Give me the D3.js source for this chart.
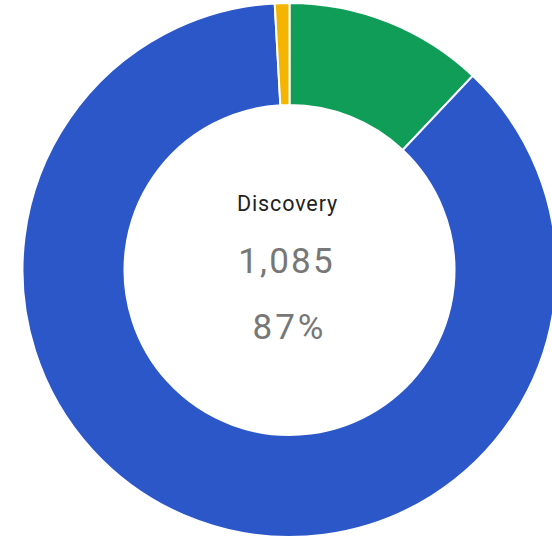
<!DOCTYPE html>
<html>
<head>
<meta charset="utf-8">
<script src="https://cdn.jsdelivr.net/npm/d3@7"></script>
<style>
  html, body { margin: 0; padding: 0; background: #fff; }
  svg { display: block; }
</style>
</head>
<body>
<svg id="chart" width="552" height="541"></svg>
<script>
const categories = ["Other", "Discovery", "Minor"];
const values = [150, 1085, 11];
const colors = ["#0F9D58", "#2B57C8", "#F4B400"];
const focusIndex = 1;

const W = 552, H = 541;
const cx = 289.5, cy = 270;
const outerR = 267, innerR = 165;

const svg = d3.select("#chart");
const g = svg.append("g").attr("transform", `translate(${cx},${cy})`);

const pie = d3.pie().sort(null).value(d => d);
const arcs = pie(values);
const arc = d3.arc().innerRadius(innerR).outerRadius(outerR);

g.selectAll("path.slice")
  .data(arcs)
  .join("path")
  .attr("class", "slice")
  .attr("d", arc)
  .attr("fill", (d, i) => colors[i])
  .attr("stroke", "#fff")
  .attr("stroke-width", 2);

const total = d3.sum(values);
const fmt = d3.format(",");
const pct = Math.round(values[focusIndex] / total * 100) + "%";

g.append("text")
  .attr("x", -2).attr("y", 211 - cy)
  .attr("text-anchor", "middle")
  .attr("font-family", "Roboto, sans-serif")
  .attr("font-weight", 400)
  .attr("font-size", 21.5)
  .attr("letter-spacing", 0.9)
  .attr("fill", "#222")
  .text(categories[focusIndex]);

g.append("text")
  .attr("x", -3).attr("y", 273 - cy)
  .attr("text-anchor", "middle")
  .attr("font-family", "Roboto, sans-serif")
  .attr("font-size", 35)
  .attr("letter-spacing", 2.2)
  .attr("fill", "#777")
  .text(fmt(values[focusIndex]));

g.append("text")
  .attr("x", 0).attr("y", 339 - cy)
  .attr("text-anchor", "middle")
  .attr("font-family", "Roboto, sans-serif")
  .attr("font-size", 35)
  .attr("letter-spacing", 3)
  .attr("fill", "#777")
  .text(pct);
</script>
</body>
</html>
